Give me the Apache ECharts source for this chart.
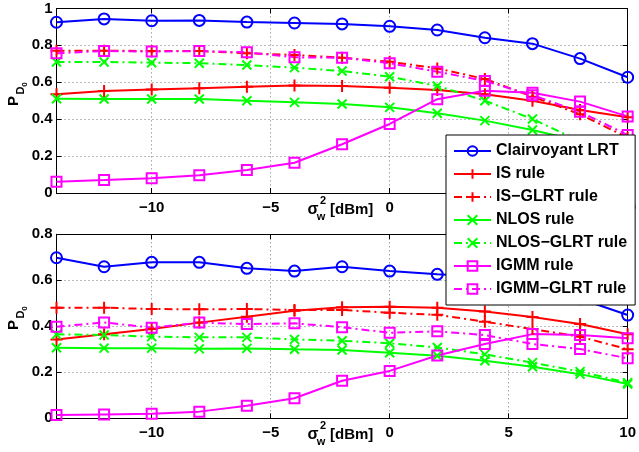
<!DOCTYPE html>
<html>
<head>
<meta charset="utf-8">
<script src="https://cdn.jsdelivr.net/npm/echarts@6/dist/echarts.min.js"></script>
<style>
  html, body { margin: 0; padding: 0; background: #fff; }
  #chart { width: 639px; height: 452px; }
</style>
</head>
<body>
<div id="chart"></div>
<script>
// Noise power sweep (dBm)
const sigmaW = [-14, -12, -10, -8, -6, -4, -2, 0, 2, 4, 6, 8, 10];

// Upper panel: detection probability P_D0
const clairTop    = [0.925, 0.943, 0.933, 0.935, 0.926, 0.921, 0.916, 0.903, 0.883, 0.841, 0.809, 0.728, 0.627];
const isTop       = [0.535, 0.553, 0.560, 0.567, 0.576, 0.583, 0.580, 0.570, 0.558, 0.535, 0.500, 0.450, 0.410];
const isGlrtTop   = [0.771, 0.771, 0.769, 0.769, 0.757, 0.748, 0.733, 0.711, 0.675, 0.618, 0.522, 0.426, 0.300];
const nlosTop     = [0.511, 0.509, 0.509, 0.509, 0.500, 0.491, 0.482, 0.464, 0.432, 0.392, 0.341, 0.280, 0.210];
const nlosGlrtTop = [0.710, 0.710, 0.706, 0.703, 0.693, 0.679, 0.661, 0.630, 0.580, 0.500, 0.401, 0.280, 0.190];
const igmmTop     = [0.061, 0.070, 0.080, 0.096, 0.125, 0.164, 0.264, 0.374, 0.508, 0.554, 0.543, 0.495, 0.415];
const igmmGlrtTop = [0.757, 0.769, 0.766, 0.769, 0.762, 0.735, 0.733, 0.703, 0.657, 0.607, 0.530, 0.440, 0.314];

// Lower panel
const clairBot    = [0.698, 0.659, 0.678, 0.678, 0.652, 0.640, 0.659, 0.640, 0.626, 0.615, 0.590, 0.520, 0.449];
const isBot       = [0.343, 0.365, 0.388, 0.416, 0.442, 0.468, 0.483, 0.485, 0.481, 0.464, 0.440, 0.410, 0.365];
const isGlrtBot   = [0.481, 0.481, 0.475, 0.474, 0.475, 0.471, 0.471, 0.459, 0.450, 0.420, 0.388, 0.355, 0.300];
const nlosBot     = [0.307, 0.305, 0.305, 0.302, 0.304, 0.300, 0.297, 0.285, 0.272, 0.250, 0.224, 0.192, 0.149];
const nlosGlrtBot = [0.365, 0.362, 0.355, 0.352, 0.352, 0.343, 0.337, 0.326, 0.308, 0.278, 0.242, 0.203, 0.155];
const igmmBot     = [0.014, 0.017, 0.020, 0.029, 0.055, 0.087, 0.163, 0.206, 0.273, 0.323, 0.366, 0.362, 0.348];
const igmmGlrtBot = [0.398, 0.417, 0.394, 0.416, 0.410, 0.413, 0.396, 0.372, 0.378, 0.362, 0.323, 0.301, 0.261];

const seriesNames = ['Clairvoyant LRT', 'IS rule', 'IS\u2212GLRT rule', 'NLOS rule', 'NLOS\u2212GLRT rule', 'IGMM rule', 'IGMM\u2212GLRT rule'];
const xTicks = [-10, -5, 0, 5, 10];

const FONT = '"Liberation Sans", Arial, sans-serif';
const BLUE = '#0000ff', RED = '#ff0000', GREEN = '#00ff00', MAGENTA = '#ff00ff';
const DASHDOT = [8, 4, 2, 4];

const PLUS = 'path://M5,0L5,10M0,5L10,5';
const CROSS = 'path://M0,0L10,10M10,0L0,10';

// marker / colour / dash style for each curve
const styles = [
  { color: BLUE,    symbol: 'circle', size: 11, dash: 'solid' },
  { color: RED,     symbol: PLUS,     size: 12, dash: 'solid' },
  { color: RED,     symbol: PLUS,     size: 12, dash: DASHDOT },
  { color: GREEN,   symbol: CROSS,    size: 9,  dash: 'solid' },
  { color: GREEN,   symbol: CROSS,    size: 9,  dash: DASHDOT },
  { color: MAGENTA, symbol: 'rect',   size: 10, dash: 'solid' },
  { color: MAGENTA, symbol: 'rect',   size: 10, dash: DASHDOT }
];

const topSets = [clairTop, isTop, isGlrtTop, nlosTop, nlosGlrtTop, igmmTop, igmmGlrtTop];
const botSets = [clairBot, isBot, isGlrtBot, nlosBot, nlosGlrtBot, igmmBot, igmmGlrtBot];

function makeSeries(values, k, axisIdx) {
  const s = styles[k];
  return {
    type: 'line',
    name: seriesNames[k],
    xAxisIndex: axisIdx,
    yAxisIndex: axisIdx,
    data: sigmaW.map((x, i) => [x, values[i]]),
    color: s.color,
    symbol: s.symbol,
    symbolSize: s.size,
    showAllSymbol: true,
    lineStyle: { color: s.color, width: 2, type: s.dash },
    itemStyle: { color: 'rgba(255,255,255,0)', borderColor: s.color, borderWidth: 2 },
    emphasis: { disabled: true },
    z: 2
  };
}

const tickLabel = { color: '#000', fontFamily: FONT, fontWeight: 'bold', fontSize: 15 };
const gridLine = { show: true, lineStyle: { color: '#777', type: [1, 3], width: 1 } };
const axisBlack = { show: true, onZero: false, lineStyle: { color: '#000', width: 1 } };
const tickIn = { show: true, inside: true, length: 5, lineStyle: { color: '#000' } };

function xAxes(gridIndex) {
  return [
    {
      type: 'value', gridIndex, min: -14, max: 10, minInterval: 5, maxInterval: 5,
      axisLine: axisBlack, axisTick: tickIn, splitLine: gridLine,
      axisLabel: Object.assign({ margin: 7, showMinLabel: false, showMaxLabel: true,
        formatter: v => (xTicks.indexOf(v) >= 0 ? String(v).replace('-', '\u2212') : '') }, tickLabel)
    },
    {
      type: 'value', gridIndex, position: 'top', min: -14, max: 10, minInterval: 5, maxInterval: 5,
      axisLine: axisBlack, axisTick: tickIn, splitLine: { show: false }, axisLabel: { show: false }
    }
  ];
}

function yAxes(gridIndex, maxV) {
  return [
    {
      type: 'value', gridIndex, min: 0, max: maxV, interval: 0.2,
      axisLine: axisBlack, axisTick: tickIn, splitLine: gridLine,
      axisLabel: Object.assign({ margin: 4 }, tickLabel)
    },
    {
      type: 'value', gridIndex, position: 'right', min: 0, max: maxV, interval: 0.2,
      axisLine: axisBlack, axisTick: tickIn, splitLine: { show: false }, axisLabel: { show: false }
    }
  ];
}

const series = [];
topSets.forEach((v, k) => series.push(makeSeries(v, k, 0)));
botSets.forEach((v, k) => series.push(makeSeries(v, k, 2)));

// axis titles (rotated P_D0 and sigma_w^2 [dBm]) for both panels
function yTitle(cy) {
  return [
    { type: 'text', x: 14, y: cy, rotation: Math.PI / 2,
      style: { text: 'P', font: 'bold 15px ' + FONT, fill: '#000', align: 'center', verticalAlign: 'middle' } },
    { type: 'text', x: 20.5, y: cy - 10.5, rotation: Math.PI / 2,
      style: { text: 'D', font: 'bold 11px ' + FONT, fill: '#000', align: 'center', verticalAlign: 'middle' } },
    { type: 'text', x: 25, y: cy - 16.5, rotation: Math.PI / 2,
      style: { text: '0', font: 'bold 8px ' + FONT, fill: '#000', align: 'center', verticalAlign: 'middle' } }
  ];
}
function xTitle(cy) {
  return [
    { type: 'text', x: 313, y: cy, style: { text: '\u03c3', font: 'bold 16px ' + FONT, fill: '#000', align: 'center', verticalAlign: 'middle' } },
    { type: 'text', x: 323, y: cy - 9, style: { text: '2', font: 'bold 11px ' + FONT, fill: '#000', align: 'center', verticalAlign: 'middle' } },
    { type: 'text', x: 321, y: cy + 7, style: { text: 'w', font: 'bold 11px ' + FONT, fill: '#000', align: 'center', verticalAlign: 'middle' } },
    { type: 'text', x: 330, y: cy, style: { text: '[dBm]', font: 'bold 15px ' + FONT, fill: '#000', align: 'left', verticalAlign: 'middle' } }
  ];
}

const chart = echarts.init(document.getElementById('chart'), null, { renderer: 'canvas' });
chart.setOption({
  animation: false,
  backgroundColor: '#fff',
  grid: [
    { left: 56.5, top: 8.4, width: 572.5, height: 184.6, containLabel: false },
    { left: 56.5, top: 234.3, width: 572.5, height: 184, containLabel: false }
  ],
  xAxis: xAxes(0).concat(xAxes(1)),
  yAxis: yAxes(0, 1).concat(yAxes(1, 0.8)),
  legend: {
    data: seriesNames,
    orient: 'vertical',
    left: 446, top: 135,
    padding: [8, 8, 8, 7],
    itemWidth: 37, itemHeight: 12, itemGap: 7,
    backgroundColor: '#fff', borderColor: '#000', borderWidth: 1, borderRadius: 0,
    textStyle: { color: '#000', fontFamily: FONT, fontWeight: 'bold', fontSize: 16 },
    selectedMode: false,
    z: 10
  },
  graphic: { elements: yTitle(101).concat(yTitle(325)).concat(xTitle(209.6)).concat(xTitle(435)) },
  series
});
</script>
</body>
</html>
